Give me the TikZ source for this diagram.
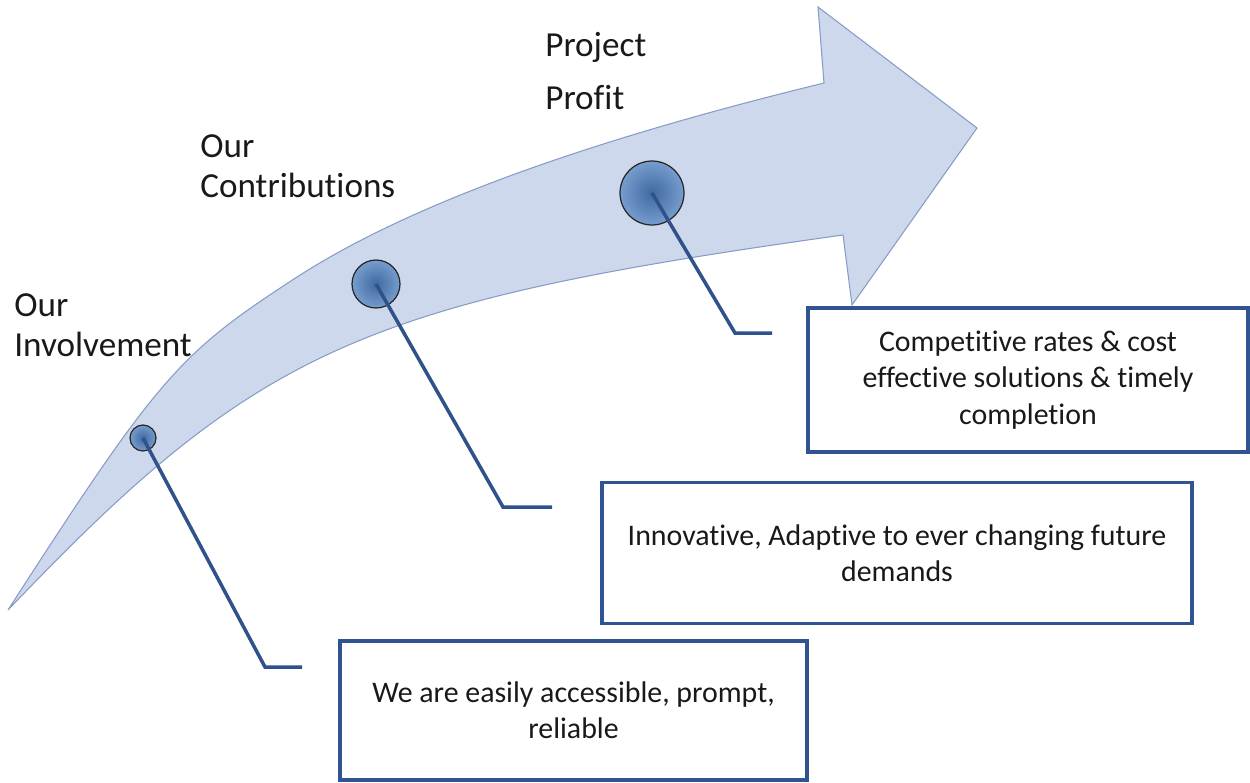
\documentclass[tikz,border=0pt]{standalone}
\usepackage{fontspec}
\setmainfont{Carlito}[Ligatures=NoCommon]
\definecolor{shaftfill}{RGB}{206,216,236}
\definecolor{shaftedge}{RGB}{135,155,200}
\definecolor{pinblue}{RGB}{74,124,190}
\definecolor{linkblue}{RGB}{48,82,138}
\definecolor{boxblue}{RGB}{47,84,145}
\definecolor{inktext}{RGB}{25,25,25}
\begin{document}
\begin{tikzpicture}[x=0.02cm,y=-0.02cm,
    pin/.style={circle,draw=black!85,line width=0.7pt,inner sep=0pt,
      inner color=pinblue!85!black,outer color=pinblue!75!white},
    link/.style={draw=linkblue,line width=2pt},
    infobox/.style={draw=boxblue,line width=1.8pt,fill=white,align=center,
      text=inktext,font=\fontsize{17}{20.7}\selectfont,inner sep=0pt},
    stage/.style={anchor=west,align=left,inner sep=0pt,text=inktext,
      font=\fontsize{20}{22.5}\selectfont}]
    \useasboundingbox (0,0) rectangle (1250,782);
    \filldraw [fill=shaftfill,draw=shaftedge,line width=0.6pt]
      (8,610) .. controls (160,374) and (180,353) .. (297,277)
      .. controls (407,206) and (582,142) .. (824,83)
      -- (818,7) -- (977,128) -- (852,305) -- (843,235)
      .. controls (363,302) and (258,347.5) .. (8,610) -- cycle;
    \node [stage] (inv) at (14,325) {Our\\Involvement};
    \node [stage] (con) at (200,166) {Our\\Contributions};
    \node [stage] (pro) at (545,71) {Project\\[7.5pt]Profit};
    \node [pin,minimum size=0.52cm] (p1) at (143,438) {};
    \node [pin,minimum size=0.96cm] (p2) at (376,284) {};
    \node [pin,minimum size=1.28cm] (p3) at (652,193) {};
    \coordinate (k1) at (265,667);
    \coordinate (e1) at (302,667);
    \coordinate (k2) at (503,507);
    \coordinate (e2) at (552,507);
    \coordinate (k3) at (735,333);
    \coordinate (e3) at (772,333);
    \draw [link] (p1.center) -- (k1) -- (e1);
    \draw [link] (p2.center) -- (k2) -- (e2);
    \draw [link] (p3.center) -- (k3) -- (e3);
    \node [infobox,minimum width=9.34cm,minimum height=2.78cm] (b1) at (573.5,710.5)
      {We are easily accessible, prompt,\\reliable};
    \node [infobox,minimum width=11.8cm,minimum height=2.82cm] (b2) at (897,553)
      {Innovative, Adaptive to ever changing future\\demands};
    \node [infobox,minimum width=8.8cm,minimum height=2.88cm] (b3) at (1028,380)
      {Competitive rates \& cost\\effective solutions \& timely\\completion};
\end{tikzpicture}
\end{document}
